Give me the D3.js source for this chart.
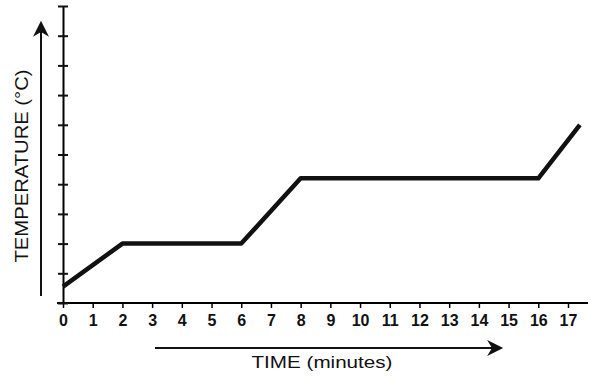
<!DOCTYPE html>
<html>
<head>
<meta charset="utf-8">
<script src="https://cdn.jsdelivr.net/npm/d3@7"></script>
<style>
  body { margin: 0; background: #fff; }
  text { font-family: "Liberation Sans", Arial, sans-serif; fill: #111; }
</style>
</head>
<body>
<div id="chart"></div>
<script>
// heating curve: time (min) vs temperature (arbitrary units, no labels)
var timePts = [0, 2, 6, 8, 16, 17.4];
var tempPts = [0.55, 2, 2, 4.2, 4.2, 6];
var xTicks = d3.range(0, 18);
var yTicks = d3.range(0, 11);

var W = 599, H = 386;
var margin = {left: 63, right: 26, top: 6, bottom: 84};

var svg = d3.select("#chart").append("svg")
  .attr("width", W)
  .attr("height", H);

var xScale = d3.scaleLinear()
  .domain([0, 17])
  .range([margin.left, 568]);

var yScale = d3.scaleLinear()
  .domain([0, 10])
  .range([H - margin.bottom + 1, margin.top]);

// x axis
var xAxis = d3.axisBottom(xScale)
  .tickValues(xTicks)
  .tickSize(5)
  .tickPadding(7)
  .tickSizeOuter(0);

var gx = svg.append("g")
  .attr("transform", "translate(0," + yScale(0) + ")")
  .call(xAxis);
gx.select(".domain")
  .attr("d", "M" + (xScale(0) - 6) + ",0H" + 588)
  .attr("stroke-width", 2);
gx.selectAll(".tick line").attr("stroke-width", 1.5);
gx.selectAll(".tick text")
  .attr("font-size", "16px")
  .attr("font-weight", "bold");

// y axis: ticks cross the axis, no labels
var yAxis = d3.axisLeft(yScale)
  .tickValues(yTicks)
  .tickSize(0)
  .tickFormat("");

var gy = svg.append("g")
  .attr("transform", "translate(" + xScale(0) + ",0)")
  .call(yAxis);
gy.select(".domain").attr("stroke-width", 2);
gy.selectAll(".tick").append("line")
  .attr("x1", -5).attr("x2", 5)
  .attr("stroke", "#111")
  .attr("stroke-width", 2);

// the curve
var line = d3.line()
  .x(function(d, i) { return xScale(timePts[i]); })
  .y(function(d) { return yScale(d); });

svg.append("path")
  .datum(tempPts)
  .attr("d", line)
  .attr("fill", "none")
  .attr("stroke", "#111")
  .attr("stroke-width", 4.5)
  .attr("stroke-linejoin", "round");

// arrows
var defs = svg.append("defs");
defs.append("marker")
  .attr("id", "arrow")
  .attr("viewBox", "0 0 10 10")
  .attr("refX", 8).attr("refY", 5)
  .attr("markerWidth", 22).attr("markerHeight", 16)
  .attr("markerUnits", "userSpaceOnUse")
  .attr("orient", "auto")
  .append("path")
  .attr("d", "M0,0L10,5L0,10L3,5Z")
  .attr("fill", "#111");

svg.append("line")
  .attr("x1", 41).attr("y1", 296)
  .attr("x2", 41).attr("y2", 24)
  .attr("stroke", "#111")
  .attr("stroke-width", 2)
  .attr("marker-end", "url(#arrow)");

svg.append("line")
  .attr("x1", 155).attr("y1", 348)
  .attr("x2", 500).attr("y2", 348)
  .attr("stroke", "#111")
  .attr("stroke-width", 2)
  .attr("marker-end", "url(#arrow)");

// axis titles
svg.append("text")
  .text("TEMPERATURE (\u00B0C)")
  .attr("transform", "translate(28,166) rotate(-90)")
  .attr("text-anchor", "middle")
  .attr("font-size", "18px")
  .attr("textLength", 193)
  .attr("lengthAdjust", "spacingAndGlyphs");

svg.append("text")
  .text("TIME (minutes)")
  .attr("x", 322)
  .attr("y", 368)
  .attr("text-anchor", "middle")
  .attr("font-size", "17px")
  .attr("textLength", 141)
  .attr("lengthAdjust", "spacingAndGlyphs");
</script>
</body>
</html>
